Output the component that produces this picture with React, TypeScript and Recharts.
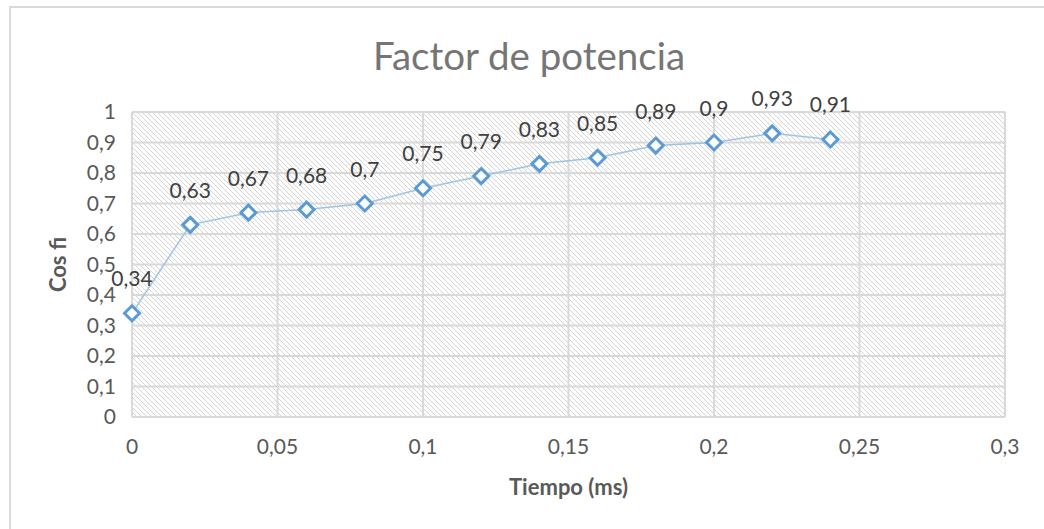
import React from "react";
import {
  LineChart,
  Line,
  XAxis,
  YAxis,
  CartesianGrid,
  LabelList,
} from "recharts";

// tiempo (ms) y cos fi
const tiempo = [0, 0.02, 0.04, 0.06, 0.08, 0.1, 0.12, 0.14, 0.16, 0.18, 0.2, 0.22, 0.24];
const cosFi = [0.34, 0.63, 0.67, 0.68, 0.7, 0.75, 0.79, 0.83, 0.85, 0.89, 0.9, 0.93, 0.91];
const xTicks = [0, 0.05, 0.1, 0.15, 0.2, 0.25, 0.3];
const yTicks = [0, 0.1, 0.2, 0.3, 0.4, 0.5, 0.6, 0.7, 0.8, 0.9, 1];

const data = tiempo.map((t, i) => ({ t, v: cosFi[i] }));

const FONT = "Lato, 'Open Sans', sans-serif";
const coma = (v: number) => String(Number(v.toFixed(2))).replace(".", ",");

const Diamond = (props: any) => {
  const { cx, cy } = props;
  if (cx == null || cy == null) return null;
  const r = 7.5;
  return (
    <polygon
      points={`${cx},${cy - r} ${cx + r},${cy} ${cx},${cy + r} ${cx - r},${cy}`}
      fill="#fff"
      stroke="#5b9bd5"
      strokeWidth={3}
    />
  );
};

const PointLabel = (props: any) => {
  const { x, y, value } = props;
  return (
    <text
      x={x}
      y={y - 27}
      textAnchor="middle"
      fill="#404040"
      fontSize={21}
      fontFamily={FONT}
    >
      {coma(value)}
    </text>
  );
};

export default function App() {
  return (
    <div style={{ position: "absolute", left: 0, top: 0, width: 1044, height: 529, background: "#fff", overflow: "hidden" }}>
      <div
        style={{
          position: "absolute",
          left: 9,
          top: 6,
          width: 1060,
          height: 560,
          border: "2px solid #d9d9d9",
        }}
      />
      <div
        style={{
          position: "absolute",
          left: 0,
          top: 32,
          width: 1058,
          textAlign: "center",
          fontFamily: FONT,
          fontSize: 38.5,
          color: "#757575",
        }}
      >
        Factor de potencia
      </div>
      <div style={{ position: "absolute", left: 0, top: 0 }}>
        <LineChart
          width={1044}
          height={529}
          data={data}
          margin={{ top: 112, right: 39, bottom: 0, left: 0 }}
        >
          <defs>
            <pattern id="hatch" width="5" height="5" patternUnits="userSpaceOnUse">
              <rect width="5" height="5" fill="#fff" />
              <path d="M0,0 L5,5 M-1,4 L1,6 M4,-1 L6,1" stroke="#d4d4d4" strokeWidth={1} />
            </pattern>
          </defs>
          <CartesianGrid
            fill="url(#hatch)"
            stroke="#d9d9d9"
            strokeWidth={2}
            horizontalValues={yTicks}
            verticalValues={xTicks}
          />
          <XAxis
            dataKey="t"
            type="number"
            domain={[0, 0.3]}
            ticks={xTicks}
            tickFormatter={coma}
            axisLine={false}
            tickLine={false}
            height={112}
            tick={{ fill: "#595959", fontSize: 21, fontFamily: FONT, dy: 14 }}
            label={{
              value: "Tiempo (ms)",
              position: "insideTop",
              offset: 62,
              fill: "#595959",
              fontSize: 22,
              fontWeight: 700,
              fontFamily: FONT,
            }}
          />
          <YAxis
            type="number"
            domain={[0, 1]}
            ticks={yTicks}
            tickFormatter={coma}
            axisLine={false}
            tickLine={false}
            width={132}
            tick={{ fill: "#595959", fontSize: 21, fontFamily: FONT, dx: -8 }}
            label={{
              value: "Cos fi",
              angle: -90,
              position: "insideLeft",
              offset: 58,
              fill: "#595959",
              fontSize: 22,
              fontWeight: 700,
              fontFamily: FONT,
              style: { textAnchor: "middle" },
            }}
          />
          <Line
            dataKey="v"
            stroke="#9dc3e6"
            strokeWidth={1.5}
            dot={<Diamond />}
            activeDot={false}
            isAnimationActive={false}
          >
            <LabelList dataKey="v" content={<PointLabel />} />
          </Line>
        </LineChart>
      </div>
    </div>
  );
}
